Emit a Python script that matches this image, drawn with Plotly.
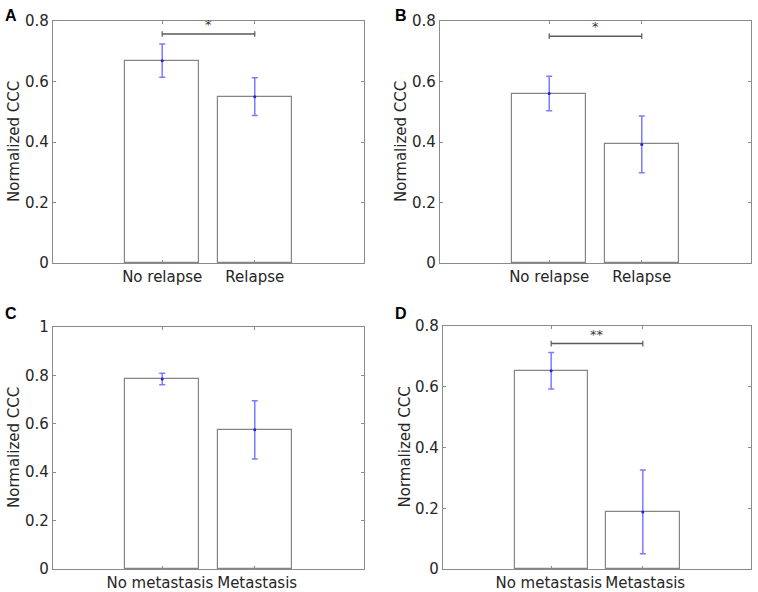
import plotly.graph_objects as go

# bar heights and error half-widths
relapse_groups = ["No relapse", "Relapse"]
metastasis_groups = ["No metastasis&nbsp;", "&nbsp;Metastasis"]

ccc_a = [0.669, 0.550]
err_a = [0.055, 0.062]
ccc_b = [0.560, 0.392]
err_b = [0.057, 0.094]
ccc_c = [0.785, 0.575]
err_c = [0.024, 0.120]
ccc_d = [0.653, 0.188]
err_d = [0.060, 0.138]

# significance bar heights and labels (None = no bar)
sig_y = [0.757, 0.750, None, 0.742]
sig_txt = ["*", "*", None, "**"]

ymax = [0.8, 0.8, 1.0, 0.8]
yticks = [[0, 0.2, 0.4, 0.6, 0.8], [0, 0.2, 0.4, 0.6, 0.8],
          [0, 0.2, 0.4, 0.6, 0.8, 1], [0, 0.2, 0.4, 0.6, 0.8]]
ytick_txt = [["0", "0.2", "0.4", "0.6", "0.8"], ["0", "0.2", "0.4", "0.6", "0.8"],
             ["0", "0.2", "0.4", "0.6", "0.8", "1"], ["0", "0.2", "0.4", "0.6", "0.8"]]

panels = [("A", relapse_groups, ccc_a, err_a),
          ("B", relapse_groups, ccc_b, err_b),
          ("C", metastasis_groups, ccc_c, err_c),
          ("D", metastasis_groups, ccc_d, err_d)]

W, H = 758, 592
# axes boxes in pixels: left, right, top, bottom
boxes = [(53, 364, 21, 263), (440, 751, 21, 263),
         (53, 364, 327, 569), (443, 751, 326, 569)]

TXT = "#262626"
AX = "#8a8a8a"
FONT = "DejaVu Sans"

fig = go.Figure()
layout = {}
annots = []

for i, (letter, groups, vals, errs) in enumerate(panels):
    n = "" if i == 0 else str(i + 1)
    xa, ya = "x" + n, "y" + n
    l, r, t, b = boxes[i]
    pos = [1, 2]

    fig.add_trace(go.Bar(
        x=pos, y=vals, width=0.8, xaxis=xa, yaxis=ya,
        marker=dict(color="white", line=dict(color="#858585", width=1.2)),
        error_y=dict(type="data", array=errs, color="rgba(90,90,255,0.8)",
                     thickness=1.5, width=3),
        showlegend=False))
    fig.add_trace(go.Scatter(
        x=pos, y=vals, mode="markers", xaxis=xa, yaxis=ya,
        marker=dict(color="#2020e0", size=3), showlegend=False))

    if sig_y[i] is not None:
        fig.add_trace(go.Scatter(
            x=pos, y=[sig_y[i], sig_y[i]], mode="lines+markers",
            xaxis=xa, yaxis=ya,
            line=dict(color="#5a5a5a", width=1.5),
            marker=dict(symbol="line-ns-open", size=4,
                        line=dict(color="#5a5a5a", width=1.2)),
            showlegend=False))
        annots.append(dict(x=1.5, y=sig_y[i], xref=xa, yref=ya, text=sig_txt[i],
                           showarrow=False, yanchor="bottom", yshift=0,
                           font=dict(family=FONT, size=13, color="#3a3a3a")))

    layout["xaxis" + n] = dict(
        domain=[l / W, r / W], anchor=ya, range=[-0.18, 3.18],
        tickvals=pos, ticktext=groups, ticks="inside", ticklen=3,
        tickcolor=AX, showline=True, linecolor=AX, linewidth=1.2,
        mirror="ticks", showgrid=False, zeroline=False,
        tickangle=0, automargin=False,
        tickfont=dict(family=FONT, size=15, color=TXT))
    layout["yaxis" + n] = dict(
        domain=[1 - b / H, 1 - t / H], anchor=xa, range=[0, ymax[i]],
        tickvals=yticks[i], ticktext=ytick_txt[i], ticks="inside", ticklen=3,
        tickcolor=AX, showline=True, linecolor=AX, linewidth=1.2,
        mirror="ticks", showgrid=False, zeroline=False, automargin=False,
        tickfont=dict(family=FONT, size=15, color=TXT))

    annots.append(dict(x=(l - 39) / W, y=1 - (t + b) / 2 / H, xref="paper", yref="paper",
                       text="Normalized CCC", textangle=-90, showarrow=False,
                       xanchor="center", yanchor="middle",
                       font=dict(family=FONT, size=15, color=TXT)))
    lx = 3 if i % 2 == 0 else 393
    ly = 5 if i < 2 else 303
    annots.append(dict(x=lx / W, y=1 - ly / H, xref="paper", yref="paper",
                       text="<b>" + letter + "</b>", showarrow=False,
                       xanchor="left", yanchor="top",
                       font=dict(family="Liberation Sans", size=16, color="black")))

fig.update_layout(**layout)
fig.update_layout(width=W, height=H, margin=dict(l=0, r=0, t=0, b=0),
                  paper_bgcolor="white", plot_bgcolor="white",
                  annotations=annots, bargap=0)
# the page body has an 8px default margin; drop it so the figure fills the window
fig.write_html("out.html", config={"displayModeBar": False},
               post_script="document.body.style.margin='0';")
